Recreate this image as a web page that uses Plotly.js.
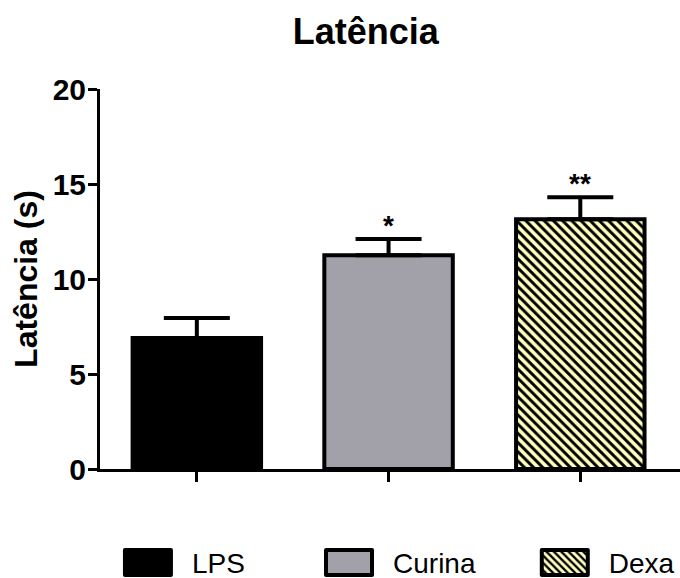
<!DOCTYPE html>
<html>
<head>
<meta charset="utf-8">
<script src="https://cdn.plot.ly/plotly-3.0.1.min.js"></script>
<style>
  html, body { margin: 0; padding: 0; background: #ffffff; }
  #chart { width: 680px; height: 578px; }
</style>
</head>
<body>
<div id="chart"></div>
<script>
// Latency per treatment group (mean with upward SEM bar)
const groups = ['LPS', 'Curina', 'Dexa'];
const means = [6.9, 11.25, 13.15];
const sem = [1.05, 0.85, 1.15];
const significance = ['', '*', '**'];
const yTickVals = [0, 5, 10, 15, 20];

const FONT = 'Arial, "Liberation Sans", sans-serif';

const fills = ['#000000', '#a2a1a9', '#ffffc0'];
const patterns = [
  { shape: '' },
  { shape: '' },
  { shape: '\\', fgcolor: '#000000', bgcolor: '#ffffc0', size: 6.5, solidity: 0.45, fillmode: 'replace' }
];

// one legend box per group so each entry sits at its own spot along the bottom
const legendIds = ['legend', 'legend2', 'legend3'];
const legendX = [0.0068, 0.3535, 0.7255];

const traces = groups.map((g, i) => ({
  type: 'bar',
  name: g,
  legend: legendIds[i],
  x: [g],
  y: [means[i]],
  width: 0.67,
  marker: {
    color: fills[i],
    line: { color: '#000000', width: 4 },
    pattern: patterns[i]
  },
  error_y: {
    type: 'data',
    symmetric: false,
    array: [sem[i]],
    arrayminus: [0],
    color: '#000000',
    thickness: 4,
    width: 33
  },
  hoverinfo: 'skip'
}));

const annotations = groups.map((g, i) => ({
  x: g,
  y: means[i] + sem[i],
  xref: 'x',
  yref: 'y',
  text: significance[i],
  showarrow: false,
  yanchor: 'bottom',
  yshift: -4,
  font: { family: FONT, size: 28, color: '#000000', weight: 'bold' }
})).filter(a => a.text);

const layout = {
  width: 680,
  height: 578,
  margin: { l: 100, r: 0, t: 89, b: 109, autoexpand: false },
  paper_bgcolor: '#ffffff',
  plot_bgcolor: '#ffffff',
  barmode: 'overlay',
  showlegend: true,
  title: {
    text: '<b>Latência</b>',
    font: { family: FONT, size: 36, color: '#000000' },
    xref: 'container',
    x: 0.538,
    xanchor: 'center',
    yref: 'container',
    y: 0.945,
    yanchor: 'middle'
  },
  xaxis: {
    type: 'category',
    categoryorder: 'array',
    categoryarray: groups,
    range: [-0.505, 2.52],
    showticklabels: false,
    ticks: 'outside',
    ticklen: 10,
    tickwidth: 3,
    tickcolor: '#000000',
    showline: true,
    linewidth: 3,
    linecolor: '#000000',
    showgrid: false,
    zeroline: false,
    fixedrange: true
  },
  yaxis: {
    range: [0, 20],
    tickvals: yTickVals,
    ticktext: yTickVals.map(String),
    ticks: 'outside',
    ticklen: 9,
    tickwidth: 3,
    tickcolor: '#000000',
    ticklabelstandoff: -4,
    tickfont: { family: FONT, size: 30, color: '#000000', weight: 'bold' },
    showline: true,
    linewidth: 3,
    linecolor: '#000000',
    showgrid: false,
    zeroline: false,
    fixedrange: true,
    title: {
      text: '<b>Latência (s)</b>',
      font: { family: FONT, size: 32, color: '#000000' },
      standoff: 6
    }
  },
  annotations: annotations
};

legendIds.forEach((id, i) => {
  layout[id] = {
    orientation: 'h',
    x: legendX[i],
    xanchor: 'left',
    y: -0.247,
    yanchor: 'middle',
    itemwidth: 78,
    font: { family: FONT, size: 28, color: '#000000' },
    bgcolor: 'rgba(0,0,0,0)',
    borderwidth: 0
  };
});

// Larger rectangular legend swatches
function widenLegendSwatches(gd) {
  gd.querySelectorAll('.legendpoints path').forEach(p => {
    p.setAttribute('d', 'M23,12.5H-23V-12.5H23Z');
    p.style.strokeWidth = '4px';
    p.style.strokeLinejoin = 'round';
  });
}

Plotly.newPlot('chart', traces, layout, { staticPlot: true, displayModeBar: false })
  .then(gd => {
    widenLegendSwatches(gd);
    gd.on('plotly_afterplot', () => widenLegendSwatches(gd));
  });
</script>
</body>
</html>
